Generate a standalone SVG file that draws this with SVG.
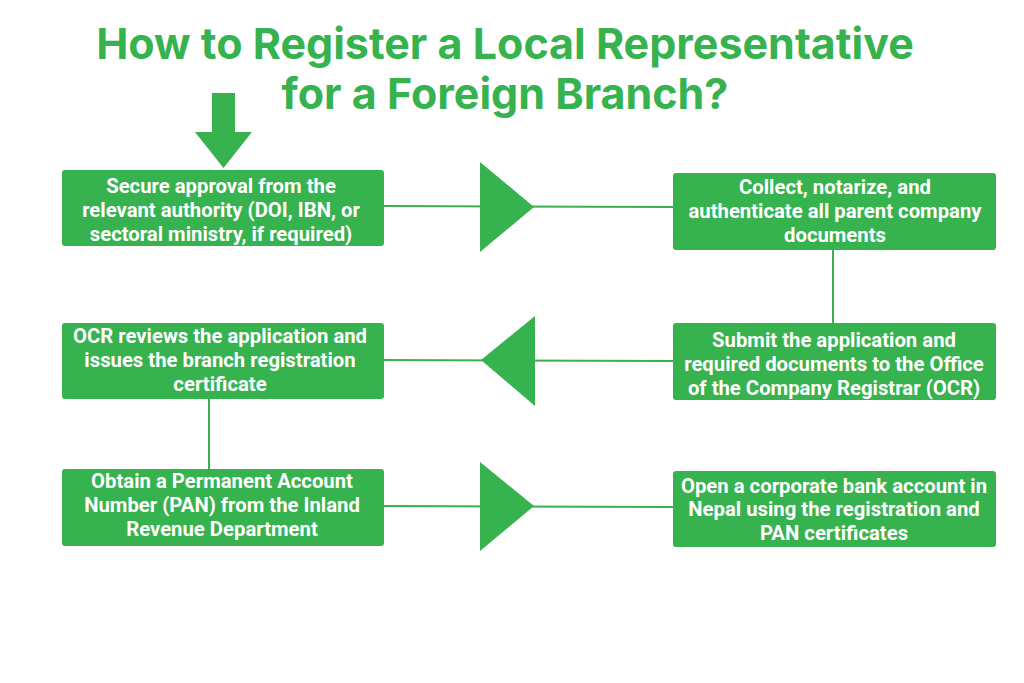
<svg xmlns="http://www.w3.org/2000/svg" width="1024" height="683" viewBox="0 0 1024 683">
<style>
.title{font-family:Inter,"Liberation Sans",sans-serif;font-weight:700;font-size:43px;fill:#36b24e;text-anchor:middle}
.box{fill:#36b24e}
.lbl{font-family:Roboto,"Liberation Sans",sans-serif;font-weight:700;font-size:20.3px;fill:#ffffff;text-anchor:middle}
.ln{stroke:#36b24e;stroke-width:2;fill:none}
.tri{fill:#36b24e}
</style>
<rect width="1024" height="683" fill="#ffffff"/>
<g id="title">
<text class="title" x="505" y="59">How to Register a Local Representative</text>
<text class="title" x="505" y="109">for a Foreign Branch?</text>
</g>
<g id="connectors">
<polygon class="tri" points="212,93 235,93 235,132 252,132 223.5,168 195,132 212,132"/>
<line class="ln" x1="384" y1="206" x2="673" y2="207"/>
<polygon class="tri" points="480,162 534,207 480,252"/>
<line class="ln" x1="833" y1="250" x2="833" y2="323"/>
<line class="ln" x1="384" y1="360" x2="673" y2="361"/>
<polygon class="tri" points="535,316 481,360 535,406"/>
<line class="ln" x1="209" y1="399" x2="209" y2="469"/>
<line class="ln" x1="384" y1="506" x2="673" y2="507"/>
<polygon class="tri" points="480,462 534,506 480,551"/>
</g>
<g id="n1">
<rect class="box" x="62" y="170" width="322" height="76" rx="3"/>
<text class="lbl" x="223"><tspan x="221" y="193">Secure approval from the</tspan><tspan x="221" y="217">relevant authority (DOI, IBN, or</tspan><tspan x="221" y="241">sectoral ministry, if required)</tspan></text>
</g>
<g id="n2">
<rect class="box" x="673" y="173" width="323" height="77" rx="3"/>
<text class="lbl" x="834"><tspan x="835" y="194">Collect, notarize, and</tspan><tspan x="835" y="218">authenticate all parent company</tspan><tspan x="835" y="242">documents</tspan></text>
</g>
<g id="n3">
<rect class="box" x="673" y="323" width="323" height="77" rx="3"/>
<text class="lbl" x="834"><tspan x="834" y="347">Submit the application and</tspan><tspan x="834" y="371">required documents to the Office</tspan><tspan x="834" y="395">of the Company Registrar (OCR)</tspan></text>
</g>
<g id="n4">
<rect class="box" x="62" y="323" width="322" height="76" rx="3"/>
<text class="lbl" x="223"><tspan x="220" y="343">OCR reviews the application and</tspan><tspan x="220" y="367">issues the branch registration</tspan><tspan x="220" y="391">certificate</tspan></text>
</g>
<g id="n5">
<rect class="box" x="62" y="469" width="322" height="77" rx="3"/>
<text class="lbl" x="223"><tspan x="222" y="488">Obtain a Permanent Account</tspan><tspan x="222" y="512">Number (PAN) from the Inland</tspan><tspan x="222" y="536">Revenue Department</tspan></text>
</g>
<g id="n6">
<rect class="box" x="673" y="471" width="323" height="76" rx="3"/>
<text class="lbl" x="834"><tspan x="834" y="493">Open a corporate bank account in</tspan><tspan x="834" y="516">Nepal using the registration and</tspan><tspan x="834" y="540">PAN certificates</tspan></text>
</g>
</svg>
